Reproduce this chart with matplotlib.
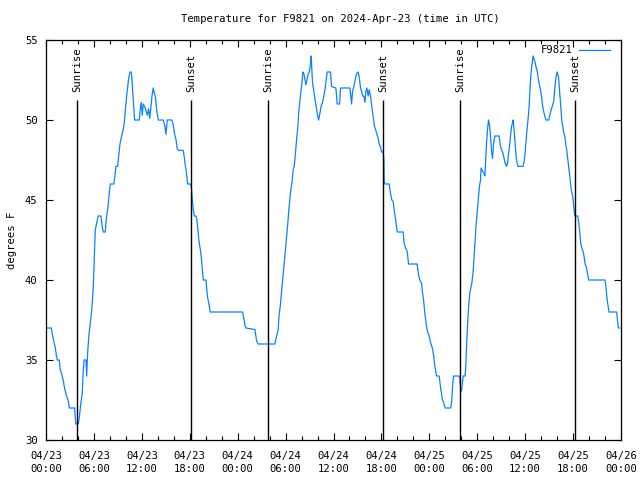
import matplotlib
matplotlib.use('Agg')
import matplotlib.pyplot as plt
from matplotlib.ticker import MultipleLocator
from datetime import datetime, timedelta

station = 'F9821'
start = datetime(2024, 4, 23)

# hours since 2024-04-23 00:00 UTC, degrees F
hours = [
    0.00, 0.66, 0.79, 1.00, 1.16, 1.29, 1.41, 1.66, 1.75, 1.97, 2.17, 2.34, 2.54, 2.75, 2.92,
    3.59, 3.72, 4.04, 4.17, 4.34, 4.54, 4.63, 4.76, 5.01, 5.09, 5.22, 5.38, 5.59, 5.76, 5.92,
    6.05, 6.17, 6.35, 6.55, 6.88, 7.05, 7.17, 7.42, 7.55, 7.72, 7.85, 7.97, 8.05, 8.51, 8.64,
    8.76, 8.97, 9.10, 9.26, 9.47, 9.67, 9.80, 9.93, 10.10, 10.23, 10.35, 10.51, 10.68, 10.80,
    10.93, 11.10, 11.68, 11.80, 11.93, 12.05, 12.18, 12.39, 12.52, 12.68, 12.85, 12.98, 13.10,
    13.27, 13.43, 13.55, 13.68, 13.86, 14.06, 14.68, 14.89, 15.02, 15.18, 15.77, 15.93, 16.11,
    16.27, 16.43, 16.61, 17.18, 17.31, 17.43, 17.61, 17.73, 18.15, 18.24, 18.31, 18.44, 18.56,
    18.77, 18.90, 19.02, 19.19, 19.36, 19.49, 19.61, 19.69, 20.03, 20.11, 20.24, 20.44, 20.56,
    24.62, 24.69, 24.82, 24.94, 25.03, 26.16, 26.37, 26.57, 28.66, 28.87, 29.07, 29.20, 29.32,
    29.45, 29.57, 29.70, 29.82, 29.95, 30.08, 30.20, 30.33, 30.45, 30.58, 30.70, 30.83, 30.95,
    31.08, 31.20, 31.38, 31.54, 31.67, 31.79, 31.92, 32.04, 32.17, 32.29, 32.54, 32.79, 32.96,
    33.13, 33.21, 33.29, 33.38, 33.54, 33.71, 33.88, 34.00, 34.13, 34.29, 34.46, 34.63, 34.79,
    34.96, 35.08, 35.21, 35.63, 35.76, 36.30, 36.38, 36.46, 36.76, 36.88, 38.05, 38.17, 38.26,
    38.39, 38.51, 38.71, 38.89, 39.09, 39.21, 39.39, 39.51, 39.64, 39.80, 39.93, 40.05, 40.18,
    40.34, 40.46, 40.64, 40.80, 40.97, 41.14, 41.27, 41.43, 41.59, 41.72, 41.89, 42.02, 42.22,
    42.31, 42.35, 42.43, 42.97, 43.14, 43.31, 43.47, 43.59, 43.77, 43.89, 43.97, 44.72, 44.85,
    45.02, 45.22, 45.40, 46.47, 46.65, 46.81, 47.02, 47.15, 47.27, 47.44, 47.65, 47.77, 47.97,
    48.15, 48.40, 48.56, 48.69, 48.90, 49.23, 49.40, 49.53, 49.65, 49.81, 49.98, 50.69, 50.82,
    50.90, 51.03, 51.73, 51.82, 51.94, 52.07, 52.23, 52.48, 52.57, 52.69, 52.82, 52.94, 53.07,
    53.19, 53.32, 53.48, 53.61, 53.73, 53.86, 54.03, 54.16, 54.28, 54.41, 54.48, 54.66, 54.82,
    54.95, 55.03, 55.16, 55.28, 55.41, 55.53, 55.66, 55.78, 55.91, 56.03, 56.20, 56.74, 56.86,
    56.99, 57.16, 57.32, 57.49, 57.66, 57.79, 57.91, 58.04, 58.16, 58.29, 58.41, 58.49, 58.61,
    58.74, 58.86, 58.99, 59.12, 59.74, 59.87, 59.99, 60.12, 60.24, 60.37, 60.49, 60.62, 60.74,
    60.87, 60.99, 61.12, 61.24, 61.37, 61.49, 61.62, 61.74, 61.92, 62.04, 62.17, 62.33, 62.49,
    62.62, 62.96, 63.08, 63.24, 63.42, 63.58, 63.71, 63.83, 64.00, 64.17, 64.25, 64.42, 64.58,
    64.71, 64.83, 64.96, 65.08, 65.21, 65.33, 65.46, 65.58, 65.71, 65.83, 65.96, 66.08, 66.21,
    66.58, 66.71, 66.83, 66.96, 67.09, 67.25, 67.37, 67.50, 67.67, 67.80, 67.96, 70.00, 70.13,
    70.25, 70.38, 70.50, 71.46, 71.55, 71.68, 71.85,
]
temps = [
    37.0, 37.0, 36.6, 36.1, 35.8, 35.3, 35.0, 35.0, 34.5, 34.1, 33.7, 33.2, 32.8, 32.5, 32.0,
    32.0, 31.0, 31.0, 31.4, 32.2, 32.9, 34.0, 35.0, 35.0, 34.0, 35.5, 36.6, 37.5, 38.3, 39.6,
    41.5, 43.1, 43.6, 44.0, 44.0, 43.3, 43.0, 43.0, 43.8, 44.4, 45.0, 45.7, 46.0, 46.0, 46.6,
    47.1, 47.1, 47.7, 48.5, 49.0, 49.4, 49.8, 50.6, 51.5, 52.1, 52.6, 53.0, 53.0, 52.3,
    51.2, 50.0, 50.0, 50.7, 51.1, 50.3, 51.0, 50.8, 50.6, 50.3, 50.7, 50.1, 50.6,
    51.5, 52.0, 51.7, 51.5, 50.6, 50.0, 50.0, 49.6, 49.1, 50.0, 50.0, 49.7, 49.1,
    48.8, 48.2, 48.1, 48.1, 47.7, 47.2, 46.6, 46.0, 46.0, 45.6, 45.1, 44.4, 44.0,
    44.0, 43.8, 43.1, 42.3, 41.8, 41.2, 40.5, 40.0, 40.0, 39.5, 38.9, 38.4, 38.0,
    38.0, 37.8, 37.5, 37.1, 37.0, 36.9, 36.2, 36.0, 36.0, 36.5, 36.9, 37.9, 38.3,
    39.0, 39.6, 40.3, 41.0, 41.7, 42.4, 43.1, 43.9, 44.6, 45.3, 45.8, 46.2, 46.9,
    47.1, 47.7, 48.8, 49.6, 50.6, 51.2, 51.8, 52.3, 53.0, 52.9, 52.2, 52.8, 53.0,
    53.5, 54.0, 53.1, 52.3, 51.8, 51.2, 50.7, 50.3, 50.0, 50.4, 50.9, 51.1, 51.5,
    52.0, 52.5, 53.0, 53.0, 52.1, 52.0, 51.5, 51.0, 51.0, 52.0, 52.0, 51.5, 51.0,
    51.8, 52.0, 52.5, 52.9, 53.0, 52.7, 52.0, 51.8, 51.5, 51.5, 51.1, 51.8, 52.0,
    51.5, 51.9, 51.5, 50.8, 50.2, 49.6, 49.4, 49.1, 48.9, 48.5, 48.3, 48.0, 48.0,
    47.5, 46.2, 46.0, 46.0, 45.4, 45.0, 44.9, 44.4, 43.8, 43.3, 43.0, 43.0, 42.3,
    42.0, 41.8, 41.0, 41.0, 40.3, 40.0, 39.8, 39.2, 38.8, 37.9, 37.1, 36.8, 36.5,
    36.1, 35.7, 35.2, 34.6, 34.0, 34.0, 33.3, 32.9, 32.5, 32.3, 32.0, 32.0, 32.5,
    33.3, 34.0, 34.0, 33.8, 33.0, 33.2, 34.0, 34.0, 34.7, 36.2, 37.5, 38.5, 39.2,
    39.5, 39.8, 40.5, 41.5, 42.5, 43.5, 44.5, 45.3, 45.9, 46.2, 47.0, 46.8, 46.7,
    46.5, 47.3, 48.5, 49.4, 50.0, 49.7, 49.0, 48.1, 47.6, 48.5, 49.0, 49.0, 48.5,
    48.2, 48.0, 47.7, 47.3, 47.1, 47.3, 47.8, 48.4, 49.0, 49.6, 49.8, 50.0, 49.4,
    48.5, 47.8, 47.3, 47.1, 47.1, 47.4, 47.9, 48.8, 49.4, 50.1, 50.8, 52.1, 53.0,
    53.5, 54.0, 53.8, 53.6, 53.3, 53.1, 52.7, 52.3, 51.9, 51.5, 50.9, 50.5, 50.2,
    50.0, 50.0, 50.3, 50.6, 50.9, 51.2, 52.0, 52.6, 53.0, 52.7, 52.2, 51.1, 50.0,
    49.6, 49.2, 49.0, 48.5, 48.1, 47.6, 47.1, 46.5, 45.9, 45.5, 45.2, 44.6, 44.0,
    44.0, 43.6, 43.0, 42.3, 42.0, 41.8, 41.5, 41.0, 40.8, 40.4, 40.0, 40.0, 39.5,
    38.8, 38.4, 38.0, 38.0, 37.5, 37.0, 37.0,
]

sunrise_hours = [3.92, 27.82, 51.90]
sunset_hours = [18.18, 42.20, 66.24]

plt.rcParams['font.family'] = ['DejaVu Sans Mono']
fs = 7.6

fig = plt.figure(figsize=(6.4, 4.8), dpi=100)
ax = fig.add_axes([46 / 640, 40 / 480, 575 / 640, 400 / 480])

ax.plot(hours, temps, color='#0a80ff', lw=0.9, label=station)

for h in sunrise_hours:
    ax.vlines(h, 30, 51.25, color='black', lw=1.0)
    ax.text(h, 51.75, 'Sunrise', rotation=90, ha='center', va='bottom', fontsize=fs)
for h in sunset_hours:
    ax.vlines(h, 30, 51.25, color='black', lw=1.0)
    ax.text(h, 51.75, 'Sunset', rotation=90, ha='center', va='bottom', fontsize=fs)

ax.set_xlim(0, 72)
ax.set_ylim(30, 55)

major = list(range(0, 73, 6))
ax.set_xticks(major)
ax.set_xticklabels([(start + timedelta(hours=h)).strftime('%m/%d\n%H:%M') for h in major],
                   fontsize=fs, linespacing=1.4)
ax.xaxis.set_minor_locator(MultipleLocator(2))
ax.set_yticks(range(30, 56, 5))
ax.tick_params(axis='y', labelsize=fs, pad=6)
ax.tick_params(axis='x', pad=8)
ax.tick_params(which='major', direction='in', length=5, width=0.8, top=True, right=True)
ax.tick_params(which='minor', direction='in', length=3, width=0.8, top=True, right=True)
for s in ax.spines.values():
    s.set_linewidth(0.9)

ax.set_ylabel('degrees F', fontsize=fs, labelpad=6)
fig.text(340 / 640, 1 - 19 / 480, 'Temperature for %s on 2024-Apr-23 (time in UTC)' % station,
         ha='center', va='center', fontsize=fs)

ax.legend(loc='upper right', bbox_to_anchor=(1 - 6 / 575, 1), frameon=False,
          markerfirst=False, handlelength=2.9, fontsize=fs, borderaxespad=0.1,
          handletextpad=0.6)

fig.savefig('out.png', dpi=100)
